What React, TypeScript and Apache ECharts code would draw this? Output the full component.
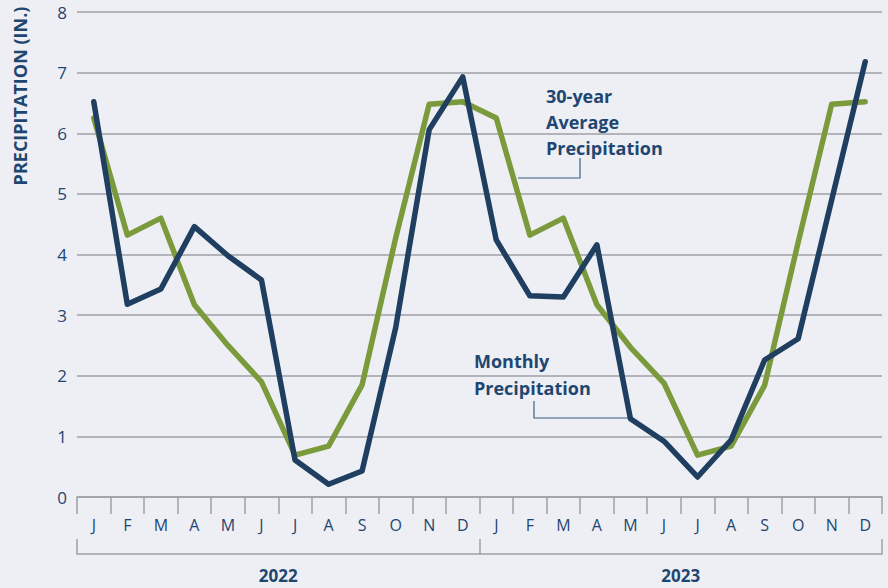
import React, { useEffect, useRef } from "react";
import * as echarts from "echarts";

const months = ["J", "F", "M", "A", "M", "J", "J", "A", "S", "O", "N", "D"];
const categories = [...months, ...months].map((m, i) => `${m}|${i}`);
const years = ["2022", "2023"];
const monthlyPrecip = [
  6.52, 3.18, 3.43, 4.46, 3.98, 3.58, 0.61, 0.21, 0.43, 2.79, 6.06, 6.93,
  4.24, 3.32, 3.3, 4.16, 1.29, 0.92, 0.33, 0.94, 2.26, 2.61, 4.9, 7.18,
];
const avgPrecip = [
  6.25, 4.32, 4.6, 3.17, 2.5, 1.9, 0.69, 0.84, 1.85, 4.27, 6.48, 6.52,
  6.25, 4.32, 4.6, 3.17, 2.47, 1.88, 0.69, 0.84, 1.84, 4.2, 6.48, 6.52,
];
const yTicks = { min: 0, max: 8, interval: 1 };

const NAVY = "#1f3e60";
const TEXT = "#1f4670";
const GREEN = "#7b9a3c";
const GRID = "#9fa1a5";
const BG = "#edeff5";
const FONT = "'Open Sans', 'Noto Sans', sans-serif";

export default function App() {
  const ref = useRef<HTMLDivElement>(null);
  useEffect(() => {
    if (!ref.current) return;
    const chart = echarts.init(ref.current, undefined, { renderer: "svg" });
    chart.setOption({
      animation: false,
      backgroundColor: BG,
      textStyle: { fontFamily: FONT },
      grid: { left: 77, right: 6, top: 12, bottom: 91 },
      xAxis: [
        {
          type: "category",
          data: categories,
          boundaryGap: true,
          axisLine: { show: true, lineStyle: { color: GRID, width: 1.5 } },
          axisTick: { show: true, length: 17, lineStyle: { color: GRID, width: 1.5 } },
          axisLabel: {
            color: TEXT,
            fontSize: 16,
            fontWeight: 500,
            fontFamily: FONT,
            margin: 20,
            formatter: (v: string) => v.split("|")[0],
          },
          splitLine: { show: false },
        },
        {
          type: "category",
          data: years,
          position: "bottom",
          offset: 57,
          boundaryGap: true,
          axisLine: { show: true, lineStyle: { color: GRID, width: 1.5 } },
          axisTick: { show: true, inside: true, length: 15, lineStyle: { color: GRID, width: 1.5 } },
          axisLabel: {
            color: TEXT,
            fontSize: 17,
            fontWeight: "bold",
            fontFamily: FONT,
            margin: 13,
          },
        },
      ],
      yAxis: {
        type: "value",
        min: yTicks.min,
        max: yTicks.max,
        interval: yTicks.interval,
        axisLine: { show: false },
        axisTick: { show: false },
        axisLabel: {
          color: TEXT,
          fontSize: 17,
          fontWeight: 500,
          fontFamily: FONT,
          margin: 10,
        },
        splitLine: { lineStyle: { color: GRID, width: 1.5 } },
      },
      series: [
        {
          name: "30-year Average Precipitation",
          type: "line",
          data: avgPrecip,
          showSymbol: false,
          symbol: "none",
          lineStyle: { color: GREEN, width: 5.5, join: "round", cap: "round" },
          z: 3,
        },
        {
          name: "Monthly Precipitation",
          type: "line",
          data: monthlyPrecip,
          showSymbol: false,
          symbol: "none",
          lineStyle: { color: NAVY, width: 5.5, join: "round", cap: "round" },
          z: 4,
        },
      ],
      graphic: [
        {
          type: "text",
          x: 20,
          y: 96,
          rotation: Math.PI / 2,
          style: {
            text: "PRECIPITATION (IN.)",
            fill: TEXT,
            font: `bold 18px ${FONT}`,
            align: "center",
            verticalAlign: "middle",
          },
        },
        {
          type: "text",
          x: 546,
          y: 83,
          style: {
            text: "30-year\nAverage\nPrecipitation",
            fill: TEXT,
            font: `bold 18px ${FONT}`,
            lineHeight: 26,
          },
        },
        {
          type: "polyline",
          shape: { points: [[580, 158], [580, 178], [518, 178]] },
          style: { stroke: "#3d5f80", lineWidth: 1.2, fill: "none" },
        },
        {
          type: "text",
          x: 474,
          y: 347,
          style: {
            text: "Monthly\nPrecipitation",
            fill: TEXT,
            font: `bold 18px ${FONT}`,
            lineHeight: 27,
          },
        },
        {
          type: "polyline",
          shape: { points: [[534, 401], [534, 418], [628, 418]] },
          style: { stroke: "#3d5f80", lineWidth: 1.2, fill: "none" },
        },
      ],
    });
    return () => chart.dispose();
  }, []);
  return (
    <div
      ref={ref}
      style={{ position: "absolute", left: 0, top: 0, width: 888, height: 588, background: BG }}
    />
  );
}
